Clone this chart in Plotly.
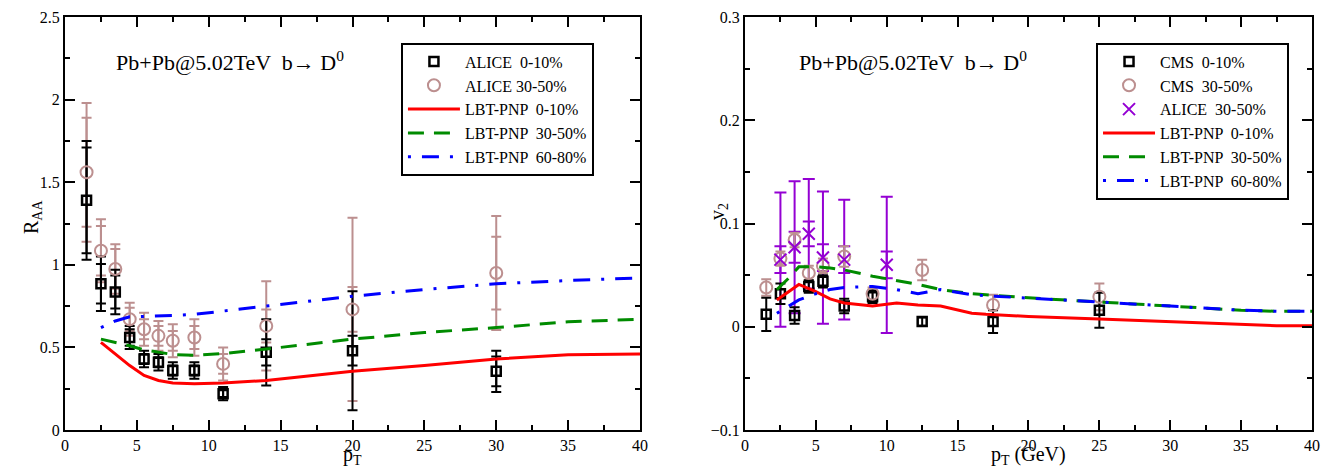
import plotly.graph_objects as go

# ---------------- Left panel: R_AA ----------------
pt_alice = [1.5, 2.5, 3.5, 4.5, 5.5, 6.5, 7.5, 9, 11, 14, 20, 30]
raa_alice_010 = [1.39, 0.885, 0.835, 0.56, 0.43, 0.41, 0.36, 0.36, 0.22, 0.47, 0.48, 0.355]
raa_alice_010_sys = [0.36, 0.165, 0.135, 0.07, 0.05, 0.05, 0.05, 0.05, 0.04, 0.20, 0.36, 0.125]
raa_alice_010_stat = [0.32, 0.12, 0.10, 0.05, 0.03, 0.03, 0.03, 0.03, 0.02, 0.08, 0.09, 0.09]
raa_alice_3050 = [1.56, 1.085, 0.975, 0.67, 0.61, 0.57, 0.54, 0.56, 0.40, 0.63, 0.73, 0.95]
raa_alice_3050_sys = [0.42, 0.19, 0.15, 0.10, 0.10, 0.09, 0.10, 0.11, 0.10, 0.27, 0.555, 0.345]
raa_alice_3050_stat = [0.33, 0.15, 0.12, 0.07, 0.06, 0.06, 0.06, 0.07, 0.06, 0.10, 0.135, 0.22]

pt_lbt_raa = [2.5, 3.5, 4.5, 5.5, 6.5, 7.5, 9, 11, 14, 20, 25, 30, 35, 40]
raa_lbt_010 = [0.53, 0.46, 0.39, 0.33, 0.30, 0.285, 0.28, 0.285, 0.30, 0.355, 0.39, 0.43, 0.455, 0.46]
raa_lbt_3050 = [0.55, 0.53, 0.51, 0.485, 0.47, 0.457, 0.452, 0.463, 0.49, 0.55, 0.59, 0.62, 0.655, 0.67]
raa_lbt_6080 = [0.62, 0.66, 0.685, 0.687, 0.69, 0.693, 0.70, 0.72, 0.75, 0.81, 0.85, 0.885, 0.905, 0.92]

# ---------------- Right panel: v2 ----------------
pt_cms = [1.5, 2.5, 3.5, 4.5, 5.5, 7, 9, 12.5, 17.5, 25]
v2_cms_010 = [0.012, 0.032, 0.011, 0.039, 0.044, 0.020, 0.029, 0.005, 0.005, 0.016]
v2_cms_010_err = [0.016, 0.010, 0.008, 0.006, 0.006, 0.007, 0.006, 0.004, 0.011, 0.017]
v2_cms_3050 = [0.038, 0.066, 0.084, 0.052, 0.059, 0.068, 0.032, 0.055, 0.021, 0.029]
v2_cms_3050_err = [0.008, 0.007, 0.007, 0.007, 0.007, 0.010, 0.006, 0.010, 0.010, 0.013]

pt_alice_v2 = [2.5, 3.5, 4.5, 5.5, 7, 10]
v2_alice_3050 = [0.065, 0.077, 0.090, 0.067, 0.065, 0.060]
v2_alice_3050_sys = [0.065, 0.064, 0.053, 0.064, 0.058, 0.066]
v2_alice_3050_stat = [0.013, 0.015, 0.012, 0.013, 0.013, 0.013]

pt_lbt_v2 = [2.25, 3, 3.8, 5, 6, 7, 9, 10.7, 12.2, 13.8, 16, 17, 20, 25, 30, 35, 37.5, 40]
v2_lbt_010 = [0.026, 0.033, 0.041, 0.034, 0.027, 0.023, 0.020, 0.023, 0.021, 0.020, 0.013, 0.012, 0.010, 0.0075, 0.005, 0.002, 0.001, 0.001]
v2_lbt_3050 = [0.036, 0.046, 0.058, 0.058, 0.057, 0.055, 0.049, 0.045, 0.041, 0.036, 0.032, 0.031, 0.028, 0.024, 0.020, 0.016, 0.015, 0.015]
v2_lbt_6080 = [0.013, 0.019, 0.026, 0.032, 0.036, 0.038, 0.039, 0.036, 0.032, 0.036, 0.031, 0.030, 0.028, 0.024, 0.020, 0.016, 0.015, 0.015]

panel_label = "Pb+Pb@5.02TeV  b\u2192 D<sup>0</sup>"

BLACK = "black"
PINK = "#BC8F8F"
PURPLE = "#9400D3"
RED = "#FF0000"
GREEN = "#008B00"
BLUE = "#0000FF"
FONT = "Liberation Serif"

fig = go.Figure()

def err_trace(x, y, err, color, xa, ya, width=5):
    return go.Scatter(x=x, y=y, mode="markers", xaxis=xa, yaxis=ya,
                      marker=dict(size=1, color="rgba(0,0,0,0)"),
                      error_y=dict(type="data", array=err, visible=True, color=color,
                                   thickness=2, width=width),
                      showlegend=False, hoverinfo="skip")

# Left data
fig.add_trace(err_trace(pt_alice, raa_alice_3050, raa_alice_3050_sys, PINK, "x", "y"))
fig.add_trace(err_trace(pt_alice, raa_alice_3050, raa_alice_3050_stat, PINK, "x", "y"))
fig.add_trace(err_trace(pt_alice, raa_alice_010, raa_alice_010_sys, BLACK, "x", "y"))
fig.add_trace(err_trace(pt_alice, raa_alice_010, raa_alice_010_stat, BLACK, "x", "y"))
fig.add_trace(go.Scatter(x=pt_alice, y=raa_alice_010, mode="markers", name="ALICE  0-10%",
                         marker=dict(symbol="square-open", size=9, color=BLACK, line=dict(width=2.5)),
                         legend="legend"))
fig.add_trace(go.Scatter(x=pt_alice, y=raa_alice_3050, mode="markers", name="ALICE 30-50%",
                         marker=dict(symbol="circle-open", size=12, color=PINK, line=dict(width=2)),
                         legend="legend"))
fig.add_trace(go.Scatter(x=pt_lbt_raa, y=raa_lbt_010, mode="lines", name="LBT-PNP  0-10%",
                         line=dict(color=RED, width=3), legend="legend"))
fig.add_trace(go.Scatter(x=pt_lbt_raa, y=raa_lbt_3050, mode="lines", name="LBT-PNP  30-50%",
                         line=dict(color=GREEN, width=3, dash="16px,10px"), legend="legend"))
fig.add_trace(go.Scatter(x=pt_lbt_raa, y=raa_lbt_6080, mode="lines", name="LBT-PNP  60-80%",
                         line=dict(color=BLUE, width=3, dash="3px,11px,17px,11px"), legend="legend"))

# Right data
fig.add_trace(err_trace(pt_alice_v2, v2_alice_3050, v2_alice_3050_sys, PURPLE, "x2", "y2", 6))
fig.add_trace(err_trace(pt_alice_v2, v2_alice_3050, v2_alice_3050_stat, PURPLE, "x2", "y2", 6))
fig.add_trace(err_trace(pt_cms, v2_cms_3050, v2_cms_3050_err, PINK, "x2", "y2"))
fig.add_trace(err_trace(pt_cms, v2_cms_010, v2_cms_010_err, BLACK, "x2", "y2"))
fig.add_trace(go.Scatter(x=pt_cms, y=v2_cms_010, mode="markers", name="CMS  0-10%",
                         xaxis="x2", yaxis="y2",
                         marker=dict(symbol="square-open", size=9, color=BLACK, line=dict(width=2.5)),
                         legend="legend2"))
fig.add_trace(go.Scatter(x=pt_cms, y=v2_cms_3050, mode="markers", name="CMS  30-50%",
                         xaxis="x2", yaxis="y2",
                         marker=dict(symbol="circle-open", size=12, color=PINK, line=dict(width=2)),
                         legend="legend2"))
fig.add_trace(go.Scatter(x=pt_alice_v2, y=v2_alice_3050, mode="markers", name="ALICE  30-50%",
                         xaxis="x2", yaxis="y2",
                         marker=dict(symbol="x-thin-open", size=12, color=PURPLE, line=dict(width=2, color=PURPLE)),
                         legend="legend2"))
fig.add_trace(go.Scatter(x=pt_lbt_v2, y=v2_lbt_010, mode="lines", name="LBT-PNP  0-10%",
                         xaxis="x2", yaxis="y2",
                         line=dict(color=RED, width=3), legend="legend2"))
fig.add_trace(go.Scatter(x=pt_lbt_v2, y=v2_lbt_3050, mode="lines", name="LBT-PNP  30-50%",
                         xaxis="x2", yaxis="y2",
                         line=dict(color=GREEN, width=3, dash="16px,10px"), legend="legend2"))
fig.add_trace(go.Scatter(x=pt_lbt_v2, y=v2_lbt_6080, mode="lines", name="LBT-PNP  60-80%",
                         xaxis="x2", yaxis="y2",
                         line=dict(color=BLUE, width=3, dash="3px,11px,17px,11px"), legend="legend2"))

axis_common = dict(showline=True, linewidth=2, linecolor=BLACK, mirror="allticks",
                   ticks="inside", ticklen=10, tickwidth=2, tickcolor=BLACK,
                   showgrid=False, zeroline=False, automargin=False,
                   tickfont=dict(family=FONT, size=16, color=BLACK))
minor_x = dict(ticks="inside", ticklen=5, tickwidth=2, tickcolor=BLACK, dtick=2.5)

title_font = dict(family=FONT, size=20, color=BLACK)
x_title_y = (430 - 441) / 413

# The page body adds an 8px margin; the figure is sized so it fits the 1336x475 window.
fig.update_layout(
    width=1320, height=459,
    margin=dict(l=57, r=16, t=9, b=37),
    paper_bgcolor="white", plot_bgcolor="white",
    font=dict(family=FONT, color=BLACK),
    xaxis=dict(domain=[0, 0.4611], range=[0, 40], dtick=5, minor=minor_x,
               anchor="y", **axis_common),
    yaxis=dict(domain=[0, 1], range=[0, 2.5], dtick=0.5,
               minor=dict(ticks="inside", ticklen=5, tickwidth=2, tickcolor=BLACK, dtick=0.25),
               anchor="x", **axis_common),
    xaxis2=dict(domain=[0.5453, 1], range=[0, 40], dtick=5, minor=minor_x,
                anchor="y2", **axis_common),
    yaxis2=dict(domain=[0, 1], range=[-0.1, 0.3], dtick=0.1,
                minor=dict(ticks="inside", ticklen=5, tickwidth=2, tickcolor=BLACK, dtick=0.05),
                anchor="x2", **axis_common),
    legend=dict(x=0.2694, y=0.938, xanchor="left", yanchor="top",
                bordercolor=BLACK, borderwidth=2, bgcolor="white",
                font=dict(family=FONT, size=16, color=BLACK), itemwidth=52,
                tracegroupgap=0),
    legend2=dict(x=0.8268, y=0.938, xanchor="left", yanchor="top",
                 bordercolor=BLACK, borderwidth=2, bgcolor="white",
                 font=dict(family=FONT, size=16, color=BLACK), itemwidth=52,
                 tracegroupgap=0),
    annotations=[
        dict(text=panel_label, xref="paper", yref="paper",
             x=(114 - 65) / 1247, y=(430 - 61) / 413, xanchor="left", yanchor="middle",
             showarrow=False, font=dict(family=FONT, size=22, color=BLACK)),
        dict(text=panel_label, xref="paper", yref="paper",
             x=(797 - 65) / 1247, y=(430 - 61) / 413, xanchor="left", yanchor="middle",
             showarrow=False, font=dict(family=FONT, size=22, color=BLACK)),
        dict(text="R<sub>AA</sub>", xref="paper", yref="paper", textangle=-90,
             x=(33 - 65) / 1247, y=(430 - 217) / 413, xanchor="center", yanchor="middle",
             showarrow=False, font=title_font),
        dict(text="v<sub>2</sub>", xref="paper", yref="paper", textangle=-90,
             x=(718 - 65) / 1247, y=(430 - 212) / 413, xanchor="center", yanchor="middle",
             showarrow=False, font=title_font),
        dict(text="p<sub>T</sub>", xref="paper", yref="paper",
             x=0.4611 / 2, y=x_title_y, xanchor="center", yanchor="top",
             showarrow=False, font=title_font),
        dict(text="p<sub>T</sub> (GeV)", xref="paper", yref="paper",
             x=(0.5453 + 1) / 2, y=x_title_y, xanchor="center", yanchor="top",
             showarrow=False, font=title_font),
    ],
)

fig.write_html("out.html")
